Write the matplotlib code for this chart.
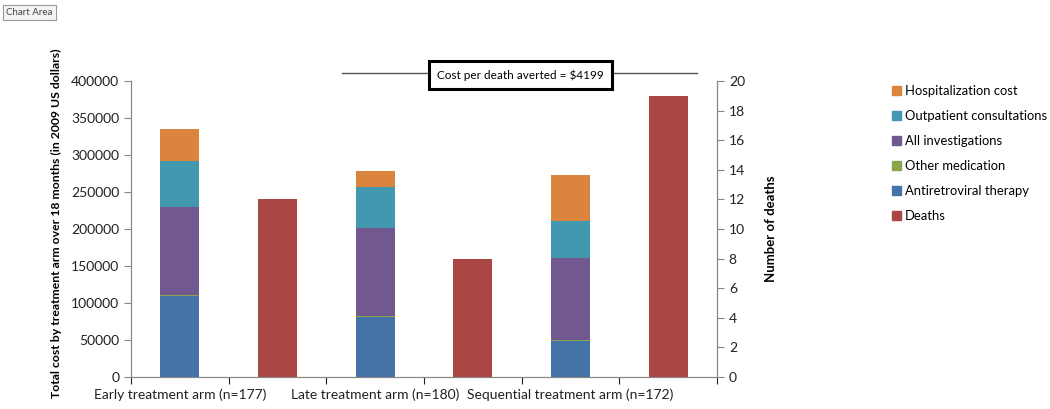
import numpy as np
import matplotlib
matplotlib.use("Agg")
import matplotlib.pyplot as plt
from matplotlib.patches import Patch
from matplotlib.lines import Line2D

plt.rcParams['font.family'] = ['Lato', 'DejaVu Sans']

# data
arms = ["Early treatment arm (n=177)", "Late treatment arm (n=180)", "Sequential treatment arm (n=172)"]
antiretroviral = [109500, 80500, 48000]
other_medication = [1500, 1500, 1500]
investigations = [119000, 119000, 111500]
outpatient = [62000, 56000, 50500]
hospitalization = [43000, 21500, 62000]
deaths = [12, 8, 19]
cost_per_death = "$4199"

series = [("Antiretroviral therapy", antiretroviral, "#4572A7"),
          ("Other medication", other_medication, "#89A54E"),
          ("All investigations", investigations, "#71588F"),
          ("Outpatient consultations", outpatient, "#4198AF"),
          ("Hospitalization cost", hospitalization, "#DB843D")]
death_color = "#AA4643"

fig = plt.figure(figsize=(10.5, 4.09), dpi=100)
ax = fig.add_axes([0.1248, 0.0782, 0.5581, 0.7237])
ax2 = ax.twinx()

cost_x = np.arange(len(arms)) * 2
death_x = cost_x + 1
w = 0.4

bottom = np.zeros(len(arms))
for name, vals, col in series:
    ax.bar(cost_x, vals, w, bottom=bottom, color=col, label=name)
    bottom += np.array(vals)
ax2.bar(death_x, deaths, w, color=death_color, label="Deaths")

ax.set_xlim(-0.5, 5.5)
ax.set_ylim(0, 400000)
ax.set_yticks(np.arange(0, 400001, 50000))
ax2.set_ylim(0, 20)
ax2.set_yticks(np.arange(0, 21, 2))

ax.set_xticks(np.arange(-0.5, 6, 1))
ax.set_xticklabels([])
ax.set_xticks(cost_x, minor=True)
ax.set_xticklabels(arms, minor=True)
ax.tick_params(axis="x", which="minor", length=0, pad=8)
ax.tick_params(axis="x", which="major", length=5, color="#888888")

gray = "#888888"
for a in (ax, ax2):
    a.spines["top"].set_visible(False)
    for s in ("left", "right", "bottom"):
        a.spines[s].set_color(gray)
    a.tick_params(labelsize=10, colors="#222222")
ax.tick_params(axis="y", length=5, color=gray)
ax2.tick_params(axis="y", length=5, color=gray)
ax.tick_params(axis="x", which="both", labelsize=10, colors="#222222")

ax.set_ylabel("Total cost by treatment arm over 18 months (in 2009 US dollars)",
              fontsize=8.8, fontweight="bold", labelpad=8)
ax.yaxis.set_label_coords(-0.118, 0.52)
ax2.set_ylabel("Number of deaths", fontsize=9.5, fontweight="bold", labelpad=14)

# legend
handles = [Patch(color=c, label=n) for n, v, c in series[::-1]]
handles.append(Patch(color=death_color, label="Deaths"))
fig.legend(handles=handles, loc="upper left", bbox_to_anchor=(0.838, 0.821),
           frameon=False, fontsize=9.4, handlelength=0.7, handleheight=0.7,
           handletextpad=0.3, labelspacing=1.0)

# annotation line and box
fig.add_artist(Line2D([0.326, 0.664], [0.821, 0.821], color="#555555", lw=1))
fig.text(0.496, 0.817, "Cost per death averted = " + cost_per_death, ha="center", va="center",
         fontsize=8.5, bbox=dict(boxstyle="square,pad=0.7", fc="white", ec="black", lw=2.2))

# "Chart Area" tooltip
fig.text(0.006, 0.97, "Chart Area", fontsize=7, color="#444444", va="center",
         bbox=dict(boxstyle="square,pad=0.3", fc="#f4f4f4", ec="#999999", lw=0.8))

fig.savefig("out.png", dpi=100)
